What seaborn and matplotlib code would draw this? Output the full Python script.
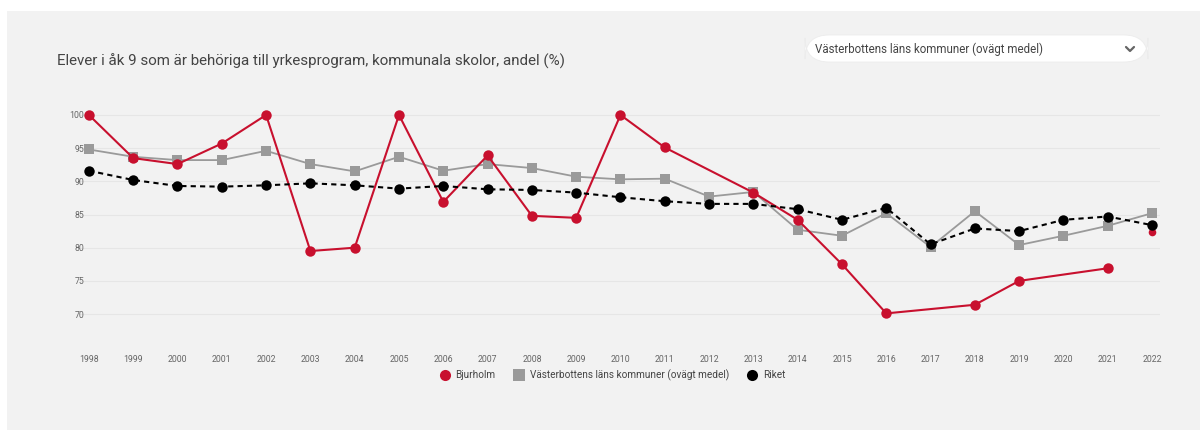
import numpy as np
import pandas as pd
import matplotlib
matplotlib.use("Agg")
import matplotlib.pyplot as plt
from matplotlib.patches import FancyBboxPatch, Rectangle
from matplotlib.lines import Line2D
import seaborn as sns

# Data
years = list(range(1998, 2023))
bjurholm = [100, 93.5, 92.6, 95.7, 100, 79.5, 80.0, 100, 86.9, 93.9, 84.8, 84.5, 100,
            95.1, np.nan, 88.3, 84.2, 77.5, 70.1, np.nan, 71.4, 75.0, np.nan, 76.9, np.nan]
bjurholm_2022 = 82.4
vasterbotten = [94.8, 93.7, 93.2, 93.2, 94.6, 92.6, 91.5, 93.7, 91.6, 92.6, 92.0, 90.7, 90.3,
                90.4, 87.7, 88.4, 82.7, 81.8, 85.2, 80.1, 85.5, 80.4, 81.8, 83.3, 85.2]
riket = [91.6, 90.2, 89.3, 89.2, 89.4, 89.7, 89.4, 88.9, 89.3, 88.8, 88.7, 88.3, 87.6,
         87.0, 86.6, 86.6, 85.8, 84.2, 86.0, 80.5, 82.9, 82.5, 84.2, 84.7, 83.4]
yticks = [70, 75, 80, 85, 90, 95, 100]

series_names = ["Bjurholm", "Västerbottens läns kommuner (ovägt medel)", "Riket"]
colors = {series_names[0]: "#c8102e", series_names[1]: "#9a9a9a", series_names[2]: "#000000"}
markers = {series_names[0]: "o", series_names[1]: "s", series_names[2]: "o"}
dashes = {series_names[0]: "", series_names[1]: "", series_names[2]: (2.5, 2)}

df = pd.DataFrame({
    "year": years * 3,
    "value": bjurholm + vasterbotten + riket,
    "serie": [series_names[0]] * 25 + [series_names[1]] * 25 + [series_names[2]] * 25,
}).dropna()

sns.set_style("white")
plt.rcParams["font.family"] = ["Roboto", "DejaVu Sans"]
bg = "#f2f2f2"

fig = plt.figure(figsize=(12, 4.3), dpi=100, facecolor="white")
# gray panel (thin white border on top and left)
fig.patches.append(Rectangle((7 / 1200, 0), 1, 1 - 11 / 430, transform=fig.transFigure,
                             facecolor=bg, edgecolor="none", zorder=-10))

ax = fig.add_axes([0.0667, 0.2326, 0.9, 0.5116], facecolor=bg)

for s in series_names:
    sub = df[df["serie"] == s]
    sns.lineplot(data=sub, x="year", y="value", ax=ax, color=colors[s], marker=markers[s],
                 markersize=7.5, markeredgewidth=0, linewidth=1.5 if s != series_names[1] else 1.3,
                 dashes=dashes[s], legend=False,
                 zorder=3 if s == series_names[0] else (2 if s == series_names[1] else 4))
sns.scatterplot(x=[2022], y=[bjurholm_2022], ax=ax, color=colors[series_names[0]],
                s=30, linewidth=0, zorder=2, legend=False)

ax.set_xlim(1997.8, 2022.18)
ax.set_ylim(67.6, 100.75)
ax.set_yticks(yticks)
ax.set_yticklabels([str(t) for t in yticks])
ax.set_xticks(years)
ax.set_xticklabels([str(y) for y in years])
ax.tick_params(axis="both", length=0, labelsize=6.3, labelcolor="#666666")
ax.tick_params(axis="x", pad=18)
ax.tick_params(axis="y", pad=-3)
ax.yaxis.grid(True, color="#e6e6e6", linewidth=0.8)
ax.set_axisbelow(True)
for sp in ax.spines.values():
    sp.set_visible(False)
ax.set_xlabel("")
ax.set_ylabel("")

fig.text(57 / 1200, 1 - 61 / 430, "Elever i åk 9 som är behöriga till yrkesprogram, kommunala skolor, andel (%)",
         fontsize=10.9, color="#444444", va="center", ha="left")

# dropdown box
box = FancyBboxPatch((805 / 1200, 1 - 62 / 430), 343 / 1200, 27 / 430,
                     boxstyle="round,pad=0,rounding_size=0.02", transform=fig.transFigure,
                     facecolor="white", edgecolor="#ececec", linewidth=0.6, mutation_aspect=2.8)
fig.patches.append(box)
fig.text(815 / 1200, 1 - 49 / 430, "Västerbottens läns kommuner (ovägt medel)",
         fontsize=8.3, color="#444444", va="center", ha="left")
fig.lines.append(Line2D([1126 / 1200, 1130 / 1200, 1134 / 1200],
                        [1 - 47 / 430, 1 - 51 / 430, 1 - 47 / 430], transform=fig.transFigure,
                        color="#666666", linewidth=1.6))

handles = [Line2D([], [], linestyle="", marker=markers[s], color=colors[s], markersize=8,
                  markeredgewidth=0) for s in series_names]
fig.legend(handles, series_names, loc="center", bbox_to_anchor=(610 / 1200, 1 - 375 / 430), ncol=3,
           frameon=False, fontsize=7.2, handletextpad=0.1, columnspacing=1.3, labelcolor="#444444")

fig.savefig("out.png", dpi=100, facecolor="white")
